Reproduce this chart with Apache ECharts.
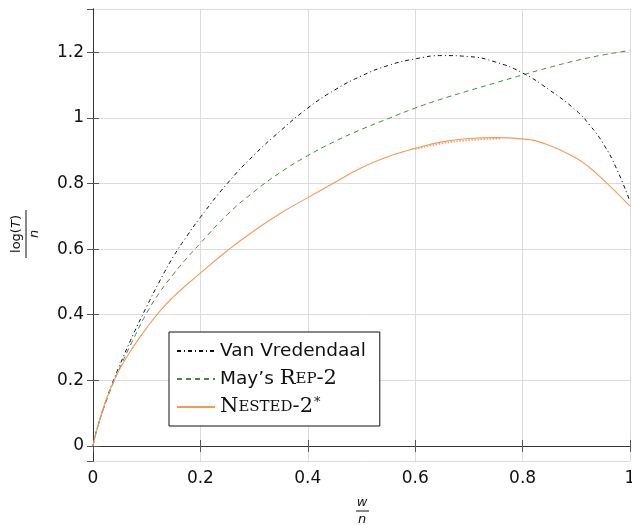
<!DOCTYPE html>
<html>
<head>
<meta charset="utf-8">
<script src="https://cdn.jsdelivr.net/npm/echarts@6/dist/echarts.min.js"></script>
<style>
  html, body { margin: 0; padding: 0; background: #fff; overflow: hidden; }
  #chart { width: 632px; height: 525px; }
</style>
</head>
<body>
<div id="chart"></div>
<script>
// shared x positions (w / n)
const xs = [0, 0.005, 0.01, 0.02, 0.035, 0.05, 0.075, 0.1, 0.125, 0.15, 0.175, 0.2,
  0.25, 0.3, 0.35, 0.4, 0.45, 0.5, 0.55, 0.6, 0.65, 0.7, 0.75, 0.8, 0.85, 0.9,
  0.925, 0.95, 0.975, 1.0];

const vanVredendaal = [0, 0.038, 0.066, 0.118, 0.187, 0.247, 0.34, 0.425, 0.505, 0.578, 0.64, 0.697,
  0.8, 0.887, 0.962, 1.03, 1.085, 1.128, 1.16, 1.18, 1.19, 1.187, 1.17, 1.137, 1.085, 1.022,
  0.978, 0.922, 0.845, 0.745];

const maysRep2 = [0, 0.036, 0.064, 0.115, 0.18, 0.238, 0.325, 0.405, 0.47, 0.524, 0.573, 0.618,
  0.705, 0.775, 0.835, 0.885, 0.928, 0.965, 0.998, 1.03, 1.058, 1.083, 1.107, 1.131, 1.154, 1.175,
  1.184, 1.192, 1.199, 1.206];

const nested2 = [0, 0.036, 0.065, 0.12, 0.183, 0.235, 0.302, 0.36, 0.412, 0.455, 0.492, 0.527,
  0.595, 0.656, 0.71, 0.757, 0.803, 0.848, 0.882, 0.907, 0.927, 0.937, 0.94, 0.936, 0.916, 0.877,
  0.848, 0.812, 0.772, 0.731];

// faint dotted companion of the orange curve
const xsDot = [0.6, 0.65, 0.7, 0.76];
const nestedDotted = [0.905, 0.922, 0.932, 0.937];

const xTicks = [0, 0.2, 0.4, 0.6, 0.8, 1];

const zip = (x, y) => x.map((v, i) => [v, y[i]]);

const chart = echarts.init(document.getElementById('chart'));

const axisLine = { show: true, lineStyle: { color: '#333', width: 1 } };
const tick = { show: true, inside: true, length: 6, lineStyle: { color: '#555' } };

const option = {
  backgroundColor: '#fff',
  animation: false,
  grid: { left: 93, right: 2, top: 9, bottom: 64, containLabel: false, outerBoundsMode: 'none' },
  xAxis: [
    {
      type: 'value', min: 0, max: 1, interval: 0.2,
      axisLine: axisLine, axisTick: tick,
      axisLabel: {
        color: '#111', fontSize: 17, fontFamily: 'DejaVu Sans', margin: 9,
        formatter: (v) => (xTicks.includes(+v.toFixed(2)) ? String(+v.toFixed(2)) : ''),
      },
      splitLine: { show: true, lineStyle: { color: '#dcdcdc' } },
    },
    {
      type: 'value', position: 'top', min: 0, max: 1, interval: 0.2,
      axisLine: axisLine, axisTick: tick, axisLabel: { show: false }, splitLine: { show: false },
    },
  ],
  yAxis: [
    {
      type: 'value', min: -0.046, max: 1.332, splitNumber: 7,
      axisLine: axisLine, axisTick: tick,
      axisLabel: {
        color: '#111', fontSize: 17, fontFamily: 'DejaVu Sans', margin: 9,
        showMinLabel: false, showMaxLabel: false,
        formatter: (v) => String(+v.toFixed(2)),
      },
      splitLine: { show: true, lineStyle: { color: '#dcdcdc' } },
    },
    {
      type: 'value', position: 'right', min: -0.046, max: 1.332, splitNumber: 7,
      axisLine: axisLine, axisTick: tick, axisLabel: { show: false }, splitLine: { show: false },
    },
  ],
  legend: {
    orient: 'vertical',
    left: 169, top: 332,
    padding: [8, 14, 8, 7],
    backgroundColor: '#fff',
    borderColor: '#111', borderWidth: 1, borderRadius: 0,
    itemWidth: 38, itemHeight: 14, itemGap: 6,
    itemStyle: { opacity: 0 },
    data: ['Van Vredendaal', "May's Rep-2", 'Nested-2*'],
    textStyle: {
      color: '#111', fontSize: 18.5, fontFamily: 'DejaVu Sans', lineHeight: 22,
      rich: {
        sans: { fontSize: 18.5, fontFamily: 'DejaVu Sans', color: '#111', lineHeight: 22 },
        big: { fontSize: 21, fontFamily: 'DejaVu Serif', color: '#111', lineHeight: 22 },
        sc: { fontSize: 15, fontFamily: 'DejaVu Serif', color: '#111', lineHeight: 22 },
        sup: { fontSize: 13, fontFamily: 'DejaVu Serif', color: '#111', lineHeight: 22, padding: [0, 0, 9, 1] },
      },
    },
    formatter: (name) => {
      if (name === 'Van Vredendaal') return '{sans|Van Vredendaal}';
      if (name === "May's Rep-2") return "{sans|May’s }{big|R}{sc|EP}{big|-2}";
      return '{big|N}{sc|ESTED}{big|-2}{sup|*}';
    },
  },
  graphic: [
    {
      type: 'group', x: 26, y: 234, rotation: Math.PI / 2,
      children: [
        {
          type: 'text', x: 0, y: -9,
          style: {
            text: '{a|log(}{i|T}{a|)}',
            align: 'center', verticalAlign: 'middle',
            rich: {
              a: { fontSize: 13, fontFamily: 'DejaVu Sans', fill: '#111' },
              i: { fontSize: 13, fontFamily: 'DejaVu Sans', fontStyle: 'italic', fill: '#111' },
            },
          },
        },
        { type: 'line', shape: { x1: -24, y1: 0, x2: 24, y2: 0 }, style: { stroke: '#111', lineWidth: 1 } },
        {
          type: 'text', x: 0, y: 9,
          style: { text: 'n', fontSize: 13, fontFamily: 'DejaVu Sans', fontStyle: 'italic', fill: '#111', align: 'center', verticalAlign: 'middle' },
        },
      ],
    },
    {
      type: 'text', x: 362, y: 503,
      style: { text: 'w', fontSize: 13, fontFamily: 'DejaVu Sans', fontStyle: 'italic', fill: '#111', align: 'center', verticalAlign: 'middle' },
    },
    { type: 'line', shape: { x1: 356, y1: 511, x2: 369, y2: 511 }, style: { stroke: '#111', lineWidth: 1 } },
    {
      type: 'text', x: 362, y: 520,
      style: { text: 'n', fontSize: 13, fontFamily: 'DejaVu Sans', fontStyle: 'italic', fill: '#111', align: 'center', verticalAlign: 'middle' },
    },
  ],
  series: [
    {
      name: 'Nested-2*dotted', type: 'line', showSymbol: false, symbol: 'none', smooth: true,
      data: zip(xsDot, nestedDotted),
      lineStyle: { color: '#f7a06a', width: 1.6, type: [1.5, 1.5] },
      itemStyle: { color: '#f7a06a' },
    },
    {
      name: 'Van Vredendaal', type: 'line', showSymbol: false, symbol: 'none', smooth: 0.5,
      data: zip(xs, vanVredendaal),
      lineStyle: { color: '#111', width: 1, type: [4, 3, 1, 3] },
      itemStyle: { color: '#111' },
    },
    {
      name: "May's Rep-2", type: 'line', showSymbol: false, symbol: 'none', smooth: 0.5,
      data: zip(xs, maysRep2),
      lineStyle: { color: '#3f8a3f', width: 1, type: [5, 4] },
      itemStyle: { color: '#3f8a3f' },
    },
    {
      name: 'Nested-2*', type: 'line', showSymbol: false, symbol: 'none', smooth: 0.5,
      data: zip(xs, nested2),
      lineStyle: { color: '#f89858', width: 1.1 },
      itemStyle: { color: '#f89858' },
    },
  ],
};

chart.setOption(option);
</script>
</body>
</html>
